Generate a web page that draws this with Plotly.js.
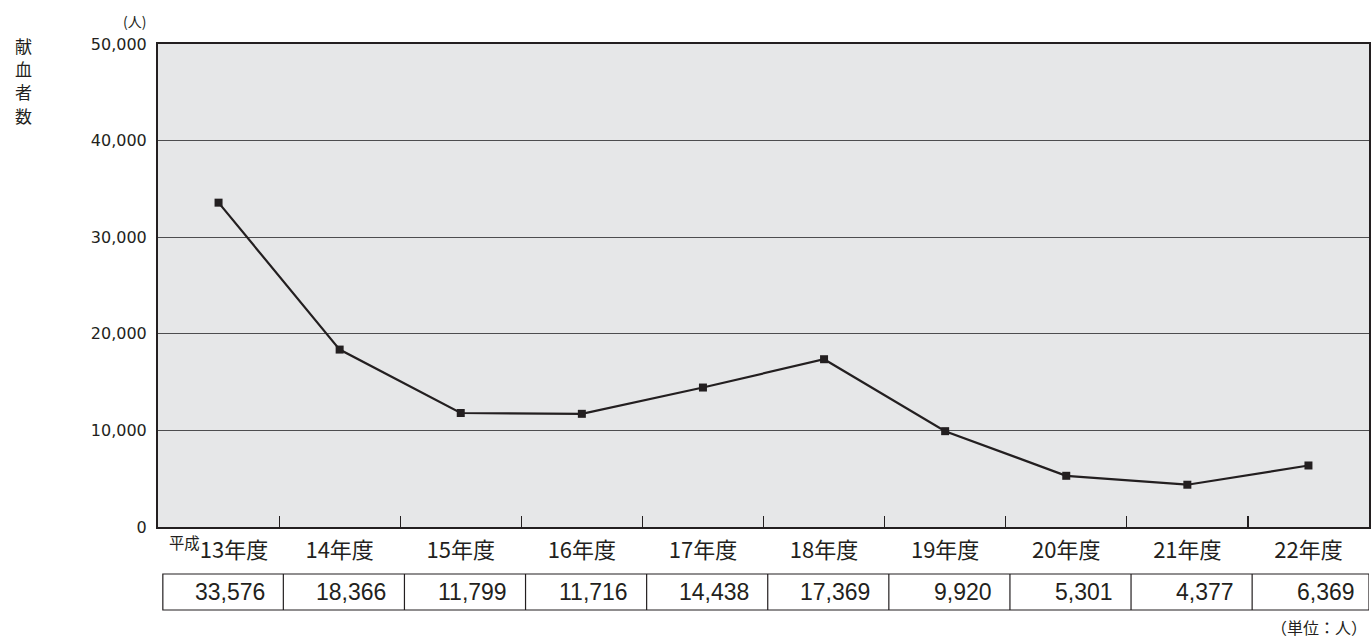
<!DOCTYPE html>
<html>
<head>
<meta charset="utf-8">
<script src="https://cdn.plot.ly/plotly-3.0.1.min.js"></script>
<style>html,body{margin:0;padding:0;background:#fff;}#chart{width:1371px;height:639px;}</style>
</head>
<body>
<div id="chart"></div>
<script>
const eraPrefix = "平成";
const categories = ["13年度","14年度","15年度","16年度","17年度","18年度","19年度","20年度","21年度","22年度"];
const donors = [33576, 18366, 11799, 11716, 14438, 17369, 9920, 5301, 4377, 6369];
const yTickVals = [0, 10000, 20000, 30000, 40000, 50000];
const yTickText = ["0","10,000","20,000","30,000","40,000","50,000"];
const yTitleChars = ["献","血","者","数"];

const ink = "#231f20";
const numFont = "Liberation Sans, Arial, Noto Sans CJK JP, sans-serif";
const tickFont = "DejaVu Sans, Noto Sans CJK JP, sans-serif";
const jpFont = "Noto Sans CJK JP, sans-serif";

const plotTop = 44, plotBottom = 527, plotH = plotBottom - plotTop;
const py = px => (plotBottom - px) / plotH;

const tableTop = py(574), tableBot = py(610);
const shapes = [];
shapes.push({type:"rect", xref:"x", yref:"paper", x0:-0.46, x1:categories.length-0.5, y0:tableBot, y1:tableTop,
  line:{color:ink, width:1.2}, fillcolor:"rgba(0,0,0,0)"});
for (let i = 0; i < categories.length-1; i++) {
  shapes.push({type:"line", xref:"x", yref:"paper", x0:i+0.535, x1:i+0.535, y0:tableBot, y1:tableTop,
    line:{color:ink, width:1.2}});
}

const annotations = [];
donors.forEach((v,i) => {
  annotations.push({xref:"x", yref:"paper", x:i+0.4, y:(tableTop+tableBot)/2, xanchor:"right", yanchor:"middle",
    text:v.toLocaleString("en-US"), showarrow:false, font:{family:numFont, size:23, color:ink}});
});
annotations.push({xref:"paper", yref:"paper", x:-0.0198, y:py(21), xanchor:"center", yanchor:"middle",
  text:"(人)", showarrow:false, font:{family:jpFont, size:14, color:ink}});
annotations.push({xref:"paper", yref:"paper", x:1, y:py(627), xanchor:"right", yanchor:"middle",
  text:"（単位：人）", showarrow:false, font:{family:jpFont, size:16, color:ink}});
const yTitleCenters = [45, 68.5, 92, 115.5];
yTitleChars.forEach((c,i) => {
  annotations.push({xref:"paper", yref:"paper", x:(23-158)/1211, y:py(yTitleCenters[i]), xanchor:"center", yanchor:"middle",
    text:c, showarrow:false, font:{family:jpFont, size:17, color:ink}});
});

const tickText = categories.map((c,i) => i === 0 ? "<sup>" + eraPrefix + "</sup>" + c : c);

const trace = {
  x: categories, y: donors, type:"scatter", mode:"lines+markers",
  line:{color:ink, width:2.2},
  marker:{symbol:"square", size:8, color:ink},
  hoverinfo:"skip"
};

const layout = {
  width:1371, height:639,
  margin:{l:158, r:2, t:44, b:112},
  paper_bgcolor:"#ffffff", plot_bgcolor:"#e6e7e8",
  showlegend:false,
  xaxis:{type:"category", range:[-0.5, categories.length-0.5], tickson:"boundaries",
    tickmode:"array", tickvals:categories, ticktext:tickText,
    ticks:"inside", ticklen:11, tickwidth:1.2, tickcolor:ink,
    showgrid:false, showline:true, linecolor:ink, linewidth:2, mirror:true,
    tickfont:{family:jpFont, size:22, color:ink}, ticklabelstandoff:3, zeroline:false},
  yaxis:{range:[0,50000], tickmode:"array", tickvals:yTickVals, ticktext:yTickText,
    showgrid:true, gridcolor:"#4d4d4f", gridwidth:1.3,
    showline:true, linecolor:ink, linewidth:2, mirror:true, ticks:"", zeroline:false,
    tickfont:{family:tickFont, size:16, color:ink}, ticklabelstandoff:6},
  shapes: shapes,
  annotations: annotations
};

Plotly.newPlot("chart", [trace], layout, {staticPlot:true, displayModeBar:false});
</script>
</body>
</html>
